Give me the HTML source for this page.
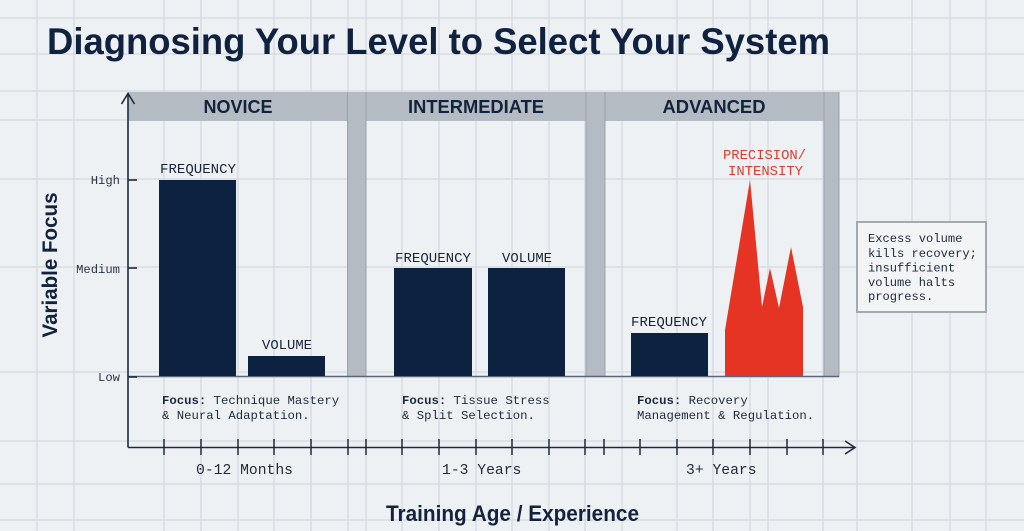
<!DOCTYPE html>
<html><head><meta charset="utf-8"><style>
html,body{margin:0;padding:0;background:#eef1f4;}
svg{display:block;}
.mono{font-family:"Liberation Mono",monospace;}
.sans{font-family:"Liberation Sans",sans-serif;}
</style></head><body>
<svg width="1024" height="531" viewBox="0 0 1024 531" xmlns="http://www.w3.org/2000/svg">
<rect x="0" y="0" width="1024" height="531" fill="#eef1f4"/>
<g stroke="#d4d9df" stroke-width="1.2">
<line x1="37" y1="0" x2="37" y2="531"/><line x1="74" y1="0" x2="74" y2="531"/>
<line x1="164" y1="0" x2="164" y2="531"/><line x1="201" y1="0" x2="201" y2="531"/>
<line x1="238" y1="0" x2="238" y2="531"/><line x1="274" y1="0" x2="274" y2="531"/>
<line x1="311" y1="0" x2="311" y2="531"/><line x1="348" y1="0" x2="348" y2="531"/>
<line x1="366" y1="0" x2="366" y2="531"/><line x1="402" y1="0" x2="402" y2="531"/>
<line x1="439" y1="0" x2="439" y2="531"/><line x1="476" y1="0" x2="476" y2="531"/>
<line x1="512" y1="0" x2="512" y2="531"/><line x1="549" y1="0" x2="549" y2="531"/>
<line x1="585" y1="0" x2="585" y2="531"/><line x1="622" y1="0" x2="622" y2="531"/>
<line x1="677" y1="0" x2="677" y2="531"/><line x1="713" y1="0" x2="713" y2="531"/>
<line x1="750" y1="0" x2="750" y2="531"/><line x1="768" y1="0" x2="768" y2="531"/>
<line x1="823" y1="0" x2="823" y2="531"/><line x1="857" y1="0" x2="857" y2="531"/>
<line x1="912" y1="0" x2="912" y2="531"/><line x1="950" y1="0" x2="950" y2="531"/>
<line x1="986" y1="0" x2="986" y2="531"/>
<line x1="0" y1="18" x2="1024" y2="18"/><line x1="0" y1="54" x2="1024" y2="54"/>
<line x1="0" y1="91" x2="1024" y2="91"/><line x1="0" y1="120" x2="1024" y2="120"/>
<line x1="0" y1="179" x2="1024" y2="179"/><line x1="0" y1="267" x2="1024" y2="267"/>
<line x1="0" y1="372" x2="1024" y2="372"/><line x1="0" y1="441" x2="1024" y2="441"/>
<line x1="0" y1="484" x2="1024" y2="484"/><line x1="0" y1="520" x2="1024" y2="520"/>
</g>

<!-- Title -->
<text x="47" y="54" class="sans" font-weight="bold" font-size="37" fill="#0f2240" textLength="783" lengthAdjust="spacingAndGlyphs">Diagnosing Your Level to Select Your System</text>

<!-- header band and columns -->
<rect x="128" y="92" width="711" height="29" fill="#b5bbc3"/>
<rect x="347.5" y="92" width="18.5" height="285" fill="#b5bbc3"/>
<rect x="586" y="92" width="19" height="285" fill="#b5bbc3"/>
<rect x="824" y="92" width="15" height="285" fill="#b5bbc3"/>
<g stroke="#9ba2ab" stroke-width="1">
<line x1="347.5" y1="92" x2="347.5" y2="377"/><line x1="366" y1="92" x2="366" y2="377"/>
<line x1="586" y1="92" x2="586" y2="377"/><line x1="605" y1="92" x2="605" y2="377"/>
<line x1="824" y1="92" x2="824" y2="377"/><line x1="839" y1="92" x2="839" y2="377"/>
</g>
<g class="sans" font-weight="bold" font-size="18" fill="#13233d" text-anchor="middle">
<text x="238" y="113">NOVICE</text>
<text x="476" y="113" textLength="136" lengthAdjust="spacingAndGlyphs">INTERMEDIATE</text>
<text x="714" y="113" textLength="103" lengthAdjust="spacingAndGlyphs">ADVANCED</text>
</g>

<!-- low line -->
<line x1="128" y1="376.5" x2="839" y2="376.5" stroke="#5b6573" stroke-width="1.6"/>

<!-- bars -->
<g fill="#0c2240">
<rect x="159" y="180" width="77" height="196"/>
<rect x="248" y="356" width="77" height="20"/>
<rect x="394" y="268" width="78" height="108"/>
<rect x="488" y="268" width="77" height="108"/>
<rect x="631" y="333" width="77" height="43"/>
</g>
<polygon fill="#e53424" points="725,376 725,330 750,180 762,307 770,268 779,308 791,247 803,307 803,376"/>

<!-- bar labels -->
<g class="mono" font-size="14" fill="#1a2436">
<text x="160" y="173" textLength="76" lengthAdjust="spacingAndGlyphs">FREQUENCY</text>
<text x="262" y="349" textLength="50" lengthAdjust="spacingAndGlyphs">VOLUME</text>
<text x="395" y="262" textLength="76" lengthAdjust="spacingAndGlyphs">FREQUENCY</text>
<text x="502" y="262" textLength="50" lengthAdjust="spacingAndGlyphs">VOLUME</text>
<text x="631" y="326" textLength="76" lengthAdjust="spacingAndGlyphs">FREQUENCY</text>
</g>
<g class="mono" font-size="14" fill="#e23a2a">
<text x="723" y="159" textLength="83" lengthAdjust="spacingAndGlyphs">PRECISION/</text>
<text x="728" y="175" textLength="75" lengthAdjust="spacingAndGlyphs">INTENSITY</text>
</g>

<!-- axes -->
<g stroke="#1c2b40" stroke-width="1.6" fill="none">
<line x1="128" y1="94" x2="128" y2="447.5"/>
<polyline points="121.5,104 128,93.5 134.5,104"/>
<line x1="128" y1="447.5" x2="855" y2="447.5"/>
<polyline points="845,441 855,447.5 845,454"/>
<line x1="128" y1="180" x2="137" y2="180"/>
<line x1="128" y1="268" x2="137" y2="268"/>
<line x1="128" y1="377" x2="137" y2="377"/>
</g>
<g stroke="#1c2b40" stroke-width="1.5">
<line x1="164" y1="439" x2="164" y2="455"/><line x1="201" y1="439" x2="201" y2="455"/>
<line x1="238" y1="439" x2="238" y2="455"/><line x1="274" y1="439" x2="274" y2="455"/>
<line x1="311" y1="439" x2="311" y2="455"/><line x1="348" y1="439" x2="348" y2="455"/>
<line x1="366" y1="439" x2="366" y2="455"/><line x1="402" y1="439" x2="402" y2="455"/>
<line x1="439" y1="439" x2="439" y2="455"/><line x1="476" y1="439" x2="476" y2="455"/>
<line x1="512" y1="439" x2="512" y2="455"/><line x1="549" y1="439" x2="549" y2="455"/>
<line x1="585" y1="439" x2="585" y2="455"/><line x1="604" y1="439" x2="604" y2="455"/>
<line x1="640" y1="439" x2="640" y2="455"/><line x1="677" y1="439" x2="677" y2="455"/>
<line x1="713" y1="439" x2="713" y2="455"/><line x1="750" y1="439" x2="750" y2="455"/>
<line x1="787" y1="439" x2="787" y2="455"/><line x1="823" y1="439" x2="823" y2="455"/>
</g>

<!-- y tick labels -->
<g class="mono" font-size="12.2" fill="#2a3445" text-anchor="end">
<text x="120" y="184">High</text>
<text x="120" y="273">Medium</text>
<text x="120" y="381">Low</text>
</g>

<!-- y axis title -->
<text transform="translate(57,265) rotate(-90)" x="0" y="0" text-anchor="middle" class="sans" font-weight="bold" font-size="21" fill="#13233d" textLength="145" lengthAdjust="spacingAndGlyphs">Variable Focus</text>

<!-- focus texts -->
<g class="mono" font-size="12.3" fill="#1e2a3a">
<text x="162" y="404"><tspan font-weight="bold">Focus:</tspan> Technique Mastery</text>
<text x="162" y="419">&amp; Neural Adaptation.</text>
<text x="402" y="404"><tspan font-weight="bold">Focus:</tspan> Tissue Stress</text>
<text x="402" y="419">&amp; Split Selection.</text>
<text x="637" y="404"><tspan font-weight="bold">Focus:</tspan> Recovery</text>
<text x="637" y="419">Management &amp; Regulation.</text>
</g>

<!-- x labels -->
<g class="mono" font-size="14.7" fill="#1e2a3a">
<text x="196" y="474">0-12 Months</text>
<text x="442" y="474">1-3 Years</text>
<text x="686" y="474">3+ Years</text>
</g>

<!-- x axis title -->
<text x="386" y="521" class="sans" font-weight="bold" font-size="22" fill="#13233d" textLength="253" lengthAdjust="spacingAndGlyphs">Training Age / Experience</text>

<!-- annotation -->
<rect x="857" y="222" width="129" height="90" fill="#f2f4f6" stroke="#a3a9b1" stroke-width="2"/>
<g class="mono" font-size="12.1" fill="#1e2a3a">
<text x="868" y="242">Excess volume</text>
<text x="868" y="257">kills recovery;</text>
<text x="868" y="271.5">insufficient</text>
<text x="868" y="286">volume halts</text>
<text x="868" y="300">progress.</text>
</g>
</svg>
</body></html>
